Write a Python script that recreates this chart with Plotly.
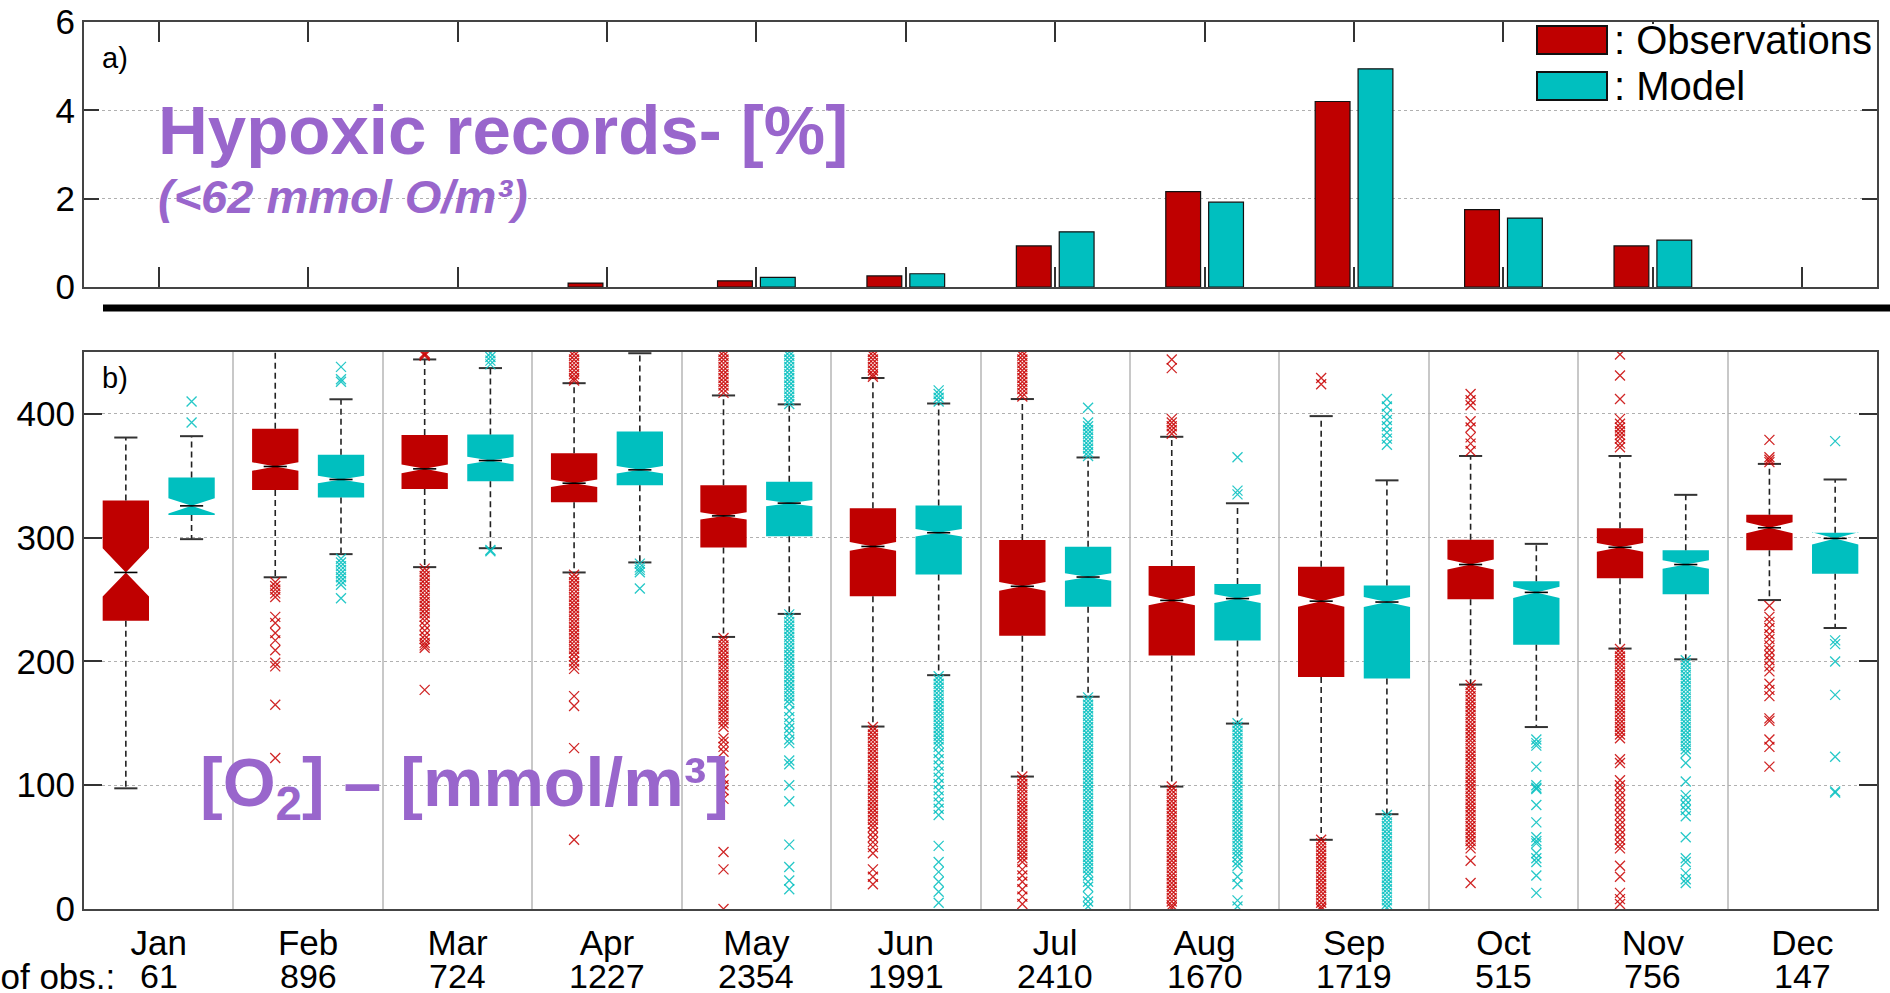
import plotly.graph_objects as go

# ---------------- data ----------------
months = ["Jan", "Feb", "Mar", "Apr", "May", "Jun", "Jul", "Aug", "Sep", "Oct", "Nov", "Dec"]
n_obs = [61, 896, 724, 1227, 2354, 1991, 2410, 1670, 1719, 515, 756, 147]

# panel a) hypoxic records [%]
hyp_obs = [0, 0, 0, 0.09, 0.14, 0.25, 0.93, 2.16, 4.2, 1.75, 0.93, 0]
hyp_mod = [0, 0, 0, 0, 0.22, 0.3, 1.25, 1.92, 4.94, 1.56, 1.06, 0]

# panel b) box statistics [mmol/m3]
obs_q1 = [232.8, 338.6, 339.4, 328.7, 292.0, 252.6, 220.7, 204.8, 187.5, 250.2, 267.2, 289.8]
obs_med = [271.9, 357.5, 355.6, 344.0, 317.6, 292.9, 260.7, 249.3, 248.7, 278.3, 292.2, 308.0]
obs_q3 = [330.0, 387.9, 383.0, 368.2, 342.4, 323.8, 298.1, 277.1, 276.5, 298.4, 307.7, 318.5]
obs_lo = [97.5, 268.0, 276.2, 271.9, 219.8, 147.4, 107.0, 98.9, 55.9, 181.3, 210.4, 249.6]
obs_hi = [380.9, 470.0, 444.0, 424.8, 414.9, 429.0, 412.0, 381.5, 398.2, 366.0, 366.0, 359.6]
obs_notch = [19.5, 3.5, 3.5, 3.0, 3.0, 3.5, 3.5, 4.0, 4.5, 4.0, 3.5, 4.5]

mod_q1 = [318.4, 332.4, 345.6, 342.4, 301.2, 270.3, 244.1, 216.9, 186.3, 213.5, 254.2, 270.9]
mod_med = [325.7, 347.0, 362.3, 354.8, 327.9, 304.0, 268.2, 250.8, 248.0, 255.8, 278.3, 299.4]
mod_q3 = [348.6, 366.9, 383.3, 385.7, 345.2, 326.0, 292.6, 262.6, 261.4, 264.8, 289.8, 304.0]
mod_lo = [298.8, 286.7, 291.5, 280.0, 238.4, 188.9, 171.5, 149.8, 76.6, 147.0, 201.7, 227.0]
mod_hi = [382.0, 411.8, 437.0, 449.0, 407.7, 408.4, 364.8, 327.8, 346.3, 295.0, 334.6, 347.0]
mod_notch = [6.2, 3.0, 3.0, 3.0, 2.5, 3.0, 3.0, 3.5, 4.0, 4.5, 3.5, 5.0]

obs_out = [
    [],
    [264, 261, 258, 255, 252, 236, 231, 223, 217, 209, 199, 196, 165, 122],
    [449, 448, 447, 275, 272, 269, 266, 263, 260, 257, 254, 251, 248, 245, 242, 239, 236, 233,
     229, 225, 221, 218, 215, 213, 211, 177],
    [450, 447, 444, 441, 438, 435, 432, 429, 427, 270, 267, 264, 261, 258, 255, 252, 249, 246,
     243, 240, 237, 234, 231, 228, 225, 222, 219, 216, 213, 210, 207, 204, 200, 197, 194, 172,
     164, 130, 56],
    [450, 447, 444, 441, 438, 435, 432, 429, 426, 423, 420, 417, 219, 216, 213, 210, 207, 204,
     201, 198, 195, 192, 189, 186, 183, 180, 177, 174, 171, 168, 165, 162, 159, 156, 153, 150,
     147, 138, 135, 131, 127, 116, 105, 100, 96, 89, 46, 32, 0],
    [450, 447, 444, 441, 438, 435, 432, 430, 147, 144, 141, 138, 135, 132, 129, 126, 123, 120,
     117, 114, 111, 108, 105, 102, 99, 96, 93, 90, 87, 84, 81, 78, 75, 72, 69, 66, 62, 58, 54,
     50, 45, 32, 26, 20],
    [450, 447, 444, 441, 438, 435, 432, 429, 426, 423, 420, 417, 414, 107, 104, 101, 98, 95,
     92, 89, 86, 83, 80, 77, 74, 71, 68, 65, 62, 59, 56, 53, 50, 47, 44, 41, 38, 32, 27, 22,
     16, 10, 4],
    [444, 437, 396, 393, 390, 387, 384, 99, 96, 93, 90, 87, 84, 81, 78, 75, 72, 69, 66, 63, 60,
     57, 54, 51, 48, 45, 42, 39, 36, 33, 30, 27, 24, 21, 18, 15, 12, 9, 6, 3, 1],
    [429, 424, 56, 53, 50, 47, 44, 41, 38, 35, 32, 29, 26, 23, 20, 17, 14, 11, 8, 5, 2, 0],
    [416, 411, 407, 394, 389, 381, 376, 370, 181, 178, 175, 172, 169, 166, 163, 160, 157, 154,
     151, 148, 145, 142, 139, 136, 133, 130, 127, 124, 121, 118, 115, 112, 109, 106, 103, 100,
     97, 94, 91, 88, 85, 82, 79, 76, 73, 70, 67, 64, 61, 58, 55, 52, 49, 39, 21],
    [448, 431, 412, 396, 392, 389, 386, 383, 380, 376, 373, 210, 207, 204, 201, 198, 195, 192,
     189, 186, 183, 180, 177, 174, 171, 168, 165, 162, 159, 156, 153, 150, 147, 144, 141, 138,
     121, 118, 104, 100, 96, 92, 88, 84, 80, 76, 72, 68, 64, 60, 56, 52, 49, 35, 26, 13, 8, 4],
    [379, 365, 363, 361, 245, 236, 232, 227, 222, 218, 213, 209, 205, 201, 196, 192, 182, 177,
     172, 154, 152, 137, 131, 115],
]
mod_out = [
    [410, 393],
    [438, 428, 426, 283, 280, 277, 274, 271, 268, 265, 262, 251],
    [449, 446, 443, 440, 290, 289],
    [279, 276, 274, 272, 259],
    [450, 447, 444, 441, 438, 435, 432, 429, 426, 423, 420, 417, 414, 411, 408, 238, 235, 232,
     229, 226, 223, 220, 217, 214, 211, 208, 205, 202, 199, 196, 193, 190, 187, 184, 181, 178,
     175, 172, 169, 166, 160, 155, 150, 146, 142, 137, 134, 120, 117, 100, 87, 52, 34, 23, 16],
    [419, 416, 413, 410, 188, 185, 182, 179, 176, 173, 170, 167, 164, 161, 158, 155, 152, 149,
     146, 143, 140, 137, 134, 131, 126, 121, 116, 111, 106, 101, 96, 91, 86, 81, 76, 51, 38,
     30, 22, 14, 5],
    [405, 393, 390, 387, 384, 381, 378, 375, 372, 369, 366, 171, 168, 165, 162, 159, 156, 153,
     150, 147, 144, 141, 138, 135, 132, 129, 126, 123, 120, 117, 114, 111, 108, 105, 102, 99,
     96, 93, 90, 87, 84, 81, 78, 75, 72, 69, 66, 63, 60, 57, 54, 51, 48, 45, 42, 39, 36, 33,
     30, 27, 22, 18, 10, 6, 2],
    [365, 338, 335, 150, 147, 144, 141, 138, 135, 132, 129, 126, 123, 120, 117, 114, 111, 108,
     105, 102, 99, 96, 93, 90, 87, 84, 81, 78, 75, 72, 69, 66, 63, 60, 57, 54, 51, 48, 45, 42,
     38, 35, 26, 20, 7, 2],
    [412, 406, 400, 395, 390, 385, 380, 375, 76, 73, 70, 67, 64, 61, 58, 55, 52, 49, 46, 43,
     40, 37, 34, 31, 28, 25, 22, 19, 16, 13, 10, 7, 4, 1],
    [137, 134, 132, 115, 100, 98, 97, 84, 70, 58, 55, 53, 45, 41, 38, 27, 13],
    [201, 198, 195, 192, 189, 186, 183, 180, 177, 174, 171, 168, 165, 162, 159, 156, 153, 150,
     147, 144, 141, 138, 135, 132, 129, 126, 118, 103, 92, 88, 84, 80, 75, 58, 41, 38, 29, 24, 21],
    [378, 217, 214, 200, 173, 123, 95, 94],
]

# ---------------- style ----------------
RED = "#BF0000"
CYAN = "#00BFBF"
PURPLE = "#9966CC"
FONT = "Liberation Sans, Arial, sans-serif"
W, H = 1890, 993
ML, MR, MT, MB = 84, 13, 22, 84
PW, PH = W - ML - MR, H - MT - MB


def px_x(px):
    return (px - ML) / PW


def px_y(py):
    return (H - MB - py) / PH


BOX_W = 0.31
OFF = 0.22
xs = list(range(1, 13))

fig = go.Figure()

# ---- panel a: bars (no outline on empty bars) ----
fig.add_trace(go.Bar(x=xs, y=hyp_obs, width=0.233, offset=-0.26,
                     marker=dict(color=RED, line=dict(color="#111", width=[1.2 if v > 0 else 0 for v in hyp_obs])),
                     name="Observations", xaxis="x", yaxis="y", showlegend=False))
fig.add_trace(go.Bar(x=xs, y=hyp_mod, width=0.233, offset=0.027,
                     marker=dict(color=CYAN, line=dict(color="#111", width=[1.2 if v > 0 else 0 for v in hyp_mod])),
                     name="Model", xaxis="x", yaxis="y", showlegend=False))

# ---- panel b: boxes ----
series = [
    ("Observations", -OFF, RED, "rgba(200,0,0,0.85)", obs_q1, obs_med, obs_q3, obs_lo, obs_hi, obs_notch, obs_out),
    ("Model", OFF, CYAN, "rgba(0,190,190,0.85)", mod_q1, mod_med, mod_q3, mod_lo, mod_hi, mod_notch, mod_out),
]
for name, off, col, mcol, q1, med, q3, lo, hi, notch, outs in series:
    pos = [m + off for m in xs]
    fig.add_trace(go.Box(x=pos, q1=q1, median=med, q3=q3, lowerfence=lo, upperfence=hi,
                         notched=True, notchspan=notch, notchwidth=0.5, width=BOX_W,
                         fillcolor=col, line=dict(color=col, width=0), boxpoints=False,
                         name=name, xaxis="x2", yaxis="y2", showlegend=False))
    wx, wy, cx, cy, mx, my = [], [], [], [], [], []
    for p, a, b, c, d, e in zip(pos, q1, q3, lo, hi, med):
        wx += [p, p, None, p, p, None]
        wy += [b, d, None, a, c, None]
        cx += [p - BOX_W / 4, p + BOX_W / 4, None, p - BOX_W / 4, p + BOX_W / 4, None]
        cy += [c, c, None, d, d, None]
        mx += [p - BOX_W / 4, p + BOX_W / 4, None]
        my += [e, e, None]
    fig.add_trace(go.Scatter(x=wx, y=wy, mode="lines", line=dict(color="#222", width=1.6, dash="6px,4px"),
                             xaxis="x2", yaxis="y2", showlegend=False, hoverinfo="skip"))
    fig.add_trace(go.Scatter(x=cx, y=cy, mode="lines", line=dict(color="#333", width=2),
                             xaxis="x2", yaxis="y2", showlegend=False, hoverinfo="skip"))
    fig.add_trace(go.Scatter(x=mx, y=my, mode="lines", line=dict(color="#000", width=1.6),
                             xaxis="x2", yaxis="y2", showlegend=False, hoverinfo="skip"))
    ox, oy = [], []
    for p, vals in zip(pos, outs):
        ox += [p] * len(vals)
        oy += vals
    fig.add_trace(go.Scatter(x=ox, y=oy, mode="markers", name=name + " outliers",
                             marker=dict(symbol="x-thin-open", size=10, color=mcol,
                                         line=dict(color=mcol, width=1.3)),
                             xaxis="x2", yaxis="y2", showlegend=False))

axis_common = dict(showline=True, linecolor="#444", linewidth=2, mirror="ticks", ticks="inside",
                   tickcolor="#333", tickwidth=1.5, zeroline=False, automargin=False,
                   tickfont=dict(family=FONT, size=35, color="black"))

top_dom = [px_y(287), 1.0]
bot_dom = [0.0, px_y(352)]

fig.update_layout(
    template="none",
    width=W, height=H,
    margin=dict(l=ML, r=MR, t=MT, b=MB, autoexpand=False),
    paper_bgcolor="white", plot_bgcolor="white",
    boxmode="overlay", showlegend=False,
    xaxis=dict(domain=[0, 1], anchor="y", range=[0.5, 12.5], tickvals=xs, showticklabels=False,
               ticklen=20, showgrid=False, **axis_common),
    yaxis=dict(domain=top_dom, anchor="x", range=[0, 6], tickvals=[0, 2, 4, 6], ticklen=15,
               showgrid=True, gridcolor="#b0b0b0", griddash="dot", gridwidth=1, **axis_common),
    xaxis2=dict(domain=[0, 1], anchor="y2", range=[0.5, 12.5], tickvals=xs, ticktext=months,
                ticklen=0, showgrid=False, ticklabelstandoff=2,
                minor=dict(tickvals=[m + 0.5 for m in xs[:-1]], showgrid=True, gridcolor="#c8c8c8",
                           gridwidth=1.5, ticklen=0),
                **axis_common),
    yaxis2=dict(domain=bot_dom, anchor="x2", range=[0, 450], tickvals=[0, 100, 200, 300, 400], ticklen=18,
                showgrid=True, gridcolor="#b0b0b0", griddash="dot", gridwidth=1, **axis_common),
)

annotations = []
for m, n in zip(xs, n_obs):
    annotations.append(dict(x=m, y=px_y(976), xref="x2", yref="paper", text=str(n), showarrow=False,
                            font=dict(family=FONT, size=34, color="black"), xanchor="center", yanchor="middle"))
annotations.append(dict(x=px_x(117), y=px_y(976), xref="paper", yref="paper", text="Nb of obs.:", showarrow=False,
                        font=dict(family=FONT, size=35, color="black"), xanchor="right", yanchor="middle"))
annotations.append(dict(x=px_x(100), y=px_y(58), xref="paper", yref="paper", text="a)", showarrow=False,
                        font=dict(family=FONT, size=29, color="black"), xanchor="left", yanchor="middle"))
annotations.append(dict(x=px_x(100), y=px_y(378), xref="paper", yref="paper", text="b)", showarrow=False,
                        font=dict(family=FONT, size=29, color="black"), xanchor="left", yanchor="middle"))
annotations.append(dict(x=px_x(156), y=px_y(130), xref="paper", yref="paper", text="Hypoxic records- [%]",
                        showarrow=False, font=dict(family=FONT, size=69, color=PURPLE, weight="bold"),
                        xanchor="left", yanchor="middle"))
annotations.append(dict(x=px_x(156), y=px_y(197), xref="paper", yref="paper", text="(<62 mmol O/m³)",
                        showarrow=False, font=dict(family=FONT, size=47, color=PURPLE, weight="bold", style="italic"),
                        xanchor="left", yanchor="middle"))
annotations.append(dict(x=px_x(198), y=px_y(787), xref="paper", yref="paper", text="[O<sub>2</sub>] – [mmol/m³]",
                        showarrow=False, font=dict(family=FONT, size=68, color=PURPLE, weight="bold"),
                        xanchor="left", yanchor="middle"))
annotations.append(dict(x=px_x(1612), y=px_y(40), xref="paper", yref="paper", text=": Observations",
                        showarrow=False, font=dict(family=FONT, size=40, color="black"), xanchor="left", yanchor="middle"))
annotations.append(dict(x=px_x(1612), y=px_y(86), xref="paper", yref="paper", text=": Model",
                        showarrow=False, font=dict(family=FONT, size=40, color="black"), xanchor="left", yanchor="middle"))

shapes = [
    # white legend background (hides the axis ticks behind the legend, as in the reference)
    dict(type="rect", xref="paper", yref="paper", x0=px_x(1525), x1=px_x(1875), y0=px_y(107), y1=px_y(24),
         fillcolor="white", line=dict(width=0), layer="above"),
    dict(type="rect", xref="paper", yref="paper", x0=px_x(1537), x1=px_x(1607), y0=px_y(54), y1=px_y(26),
         fillcolor=RED, line=dict(color="#111", width=2)),
    dict(type="rect", xref="paper", yref="paper", x0=px_x(1537), x1=px_x(1607), y0=px_y(100), y1=px_y(72),
         fillcolor=CYAN, line=dict(color="#111", width=2)),
    dict(type="line", xref="paper", yref="paper", x0=px_x(103), x1=px_x(1890), y0=px_y(308), y1=px_y(308),
         line=dict(color="black", width=7)),
]
fig.update_layout(annotations=annotations, shapes=shapes)

fig.write_html("out.html", config={"displayModeBar": False},
               post_script="document.body.style.margin='0';document.body.style.overflow='hidden';")
